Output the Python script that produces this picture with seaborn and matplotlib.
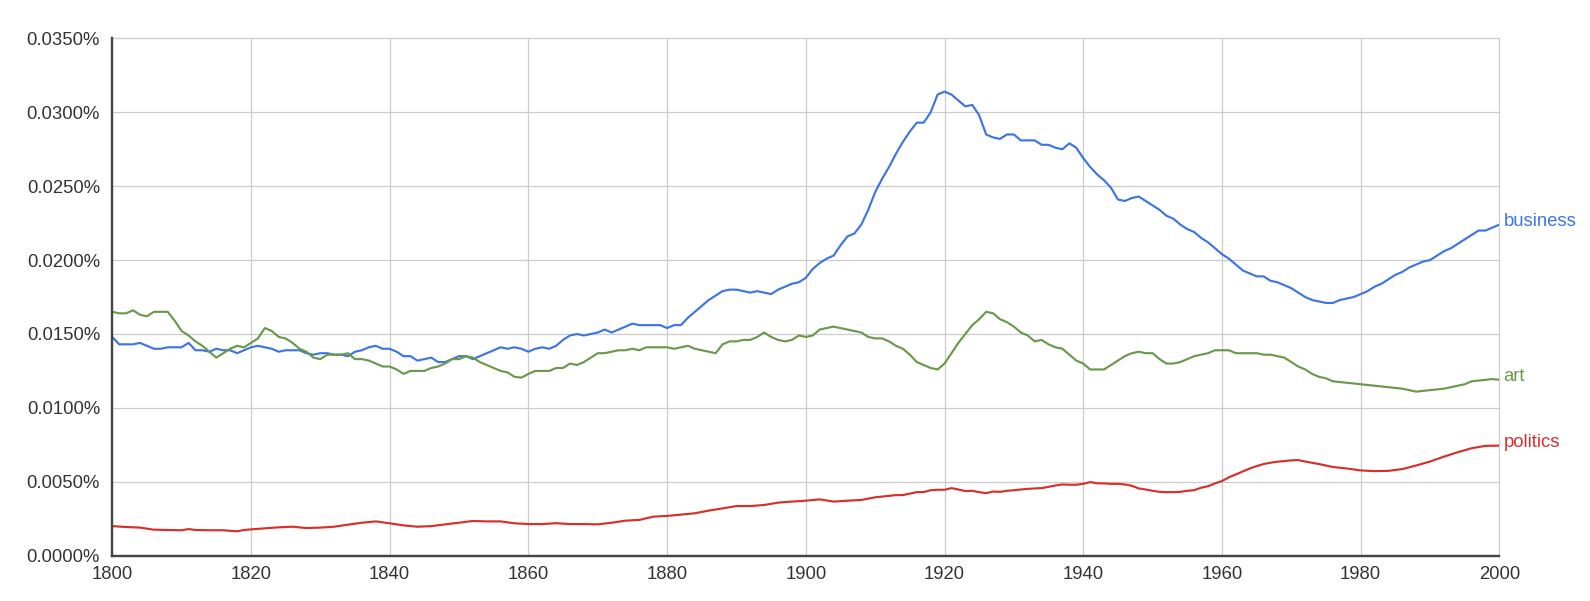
import matplotlib
matplotlib.use("Agg")
import matplotlib.pyplot as plt
import seaborn as sns
import pandas as pd
from matplotlib.ticker import FuncFormatter, MultipleLocator

# values, in percent
business_years = list(range(1800, 2001))
business = [
    0.0148, 0.0143, 0.0143, 0.0143, 0.0144, 0.0142, 0.0140, 0.0140, 0.0141, 0.0141,
    0.0141, 0.0144, 0.0139, 0.0139, 0.0138, 0.0140, 0.0139, 0.0139, 0.0137, 0.0139,
    0.0141, 0.0142, 0.0141, 0.0140, 0.0138, 0.0139, 0.0139, 0.0139, 0.0137, 0.0136,
    0.0137, 0.0137, 0.0136, 0.0136, 0.0135, 0.0138, 0.0139, 0.0141, 0.0142, 0.0140,
    0.0140, 0.0138, 0.0135, 0.0135, 0.0132, 0.0133, 0.0134, 0.0131, 0.0131, 0.0133,
    0.0135, 0.0135, 0.0133, 0.0135, 0.0137, 0.0139, 0.0141, 0.0140, 0.0141, 0.0140,
    0.0138, 0.0140, 0.0141, 0.0140, 0.0142, 0.0146, 0.0149, 0.0150, 0.0149, 0.0150,
    0.0151, 0.0153, 0.0151, 0.0153, 0.0155, 0.0157, 0.0156, 0.0156, 0.0156, 0.0156,
    0.0154, 0.0156, 0.0156, 0.0161, 0.0165, 0.0169, 0.0173, 0.0176, 0.0179, 0.0180,
    0.0180, 0.0179, 0.0178, 0.0179, 0.0178, 0.0177, 0.0180, 0.0182, 0.0184, 0.0185,
    0.0188, 0.0194, 0.0198, 0.0201, 0.0203, 0.0210, 0.0216, 0.0218, 0.0224, 0.0234,
    0.0246, 0.0255, 0.0263, 0.0272, 0.0280, 0.0287, 0.0293, 0.0293, 0.0300, 0.0312,
    0.0314, 0.0312, 0.0308, 0.0304, 0.0305, 0.0298, 0.0285, 0.0283, 0.0282, 0.0285,
    0.0285, 0.0281, 0.0281, 0.0281, 0.0278, 0.0278, 0.0276, 0.0275, 0.0279, 0.0276,
    0.0269, 0.0263, 0.0258, 0.0254, 0.0249, 0.0241, 0.0240, 0.0242, 0.0243, 0.0240,
    0.0237, 0.0234, 0.0230, 0.0228, 0.0224, 0.0221, 0.0219, 0.0215, 0.0212, 0.0208,
    0.0204, 0.0201, 0.0197, 0.0193, 0.0191, 0.0189, 0.0189, 0.0186, 0.0185, 0.0183,
    0.0181, 0.0178, 0.0175, 0.0173, 0.0172, 0.0171, 0.0171, 0.0173, 0.0174, 0.0175,
    0.0177, 0.0179, 0.0182, 0.0184, 0.0187, 0.0190, 0.0192, 0.0195, 0.0197, 0.0199,
    0.0200, 0.0203, 0.0206, 0.0208, 0.0211, 0.0214, 0.0217, 0.0220, 0.0220, 0.0222,
    0.0224,
]

art_years = list(range(1800, 2001))
art = [
    0.0165, 0.0164, 0.0164, 0.0166, 0.0163, 0.0162, 0.0165, 0.0165, 0.0165, 0.0159,
    0.0152, 0.0149, 0.0145, 0.0142, 0.0138, 0.0134, 0.0137, 0.0140, 0.0142, 0.0141,
    0.0144, 0.0147, 0.0154, 0.0152, 0.0148, 0.0147, 0.0144, 0.0140, 0.0138, 0.0134,
    0.0133, 0.0136, 0.0136, 0.0136, 0.0137, 0.0133, 0.0133, 0.0132, 0.0130, 0.0128,
    0.0128, 0.0126, 0.0123, 0.0125, 0.0125, 0.0125, 0.0127, 0.0128, 0.0130, 0.0133,
    0.0133, 0.0135, 0.0134, 0.0131, 0.0129, 0.0127, 0.0125, 0.0124, 0.0121, 0.01205,
    0.0123, 0.0125, 0.0125, 0.0125, 0.0127, 0.0127, 0.0130, 0.0129, 0.0131, 0.0134,
    0.0137, 0.0137, 0.0138, 0.0139, 0.0139, 0.0140, 0.0139, 0.0141, 0.0141, 0.0141,
    0.0141, 0.0140, 0.0141, 0.0142, 0.0140, 0.0139, 0.0138, 0.0137, 0.0143, 0.0145,
    0.0145, 0.0146, 0.0146, 0.0148, 0.0151, 0.0148, 0.0146, 0.0145, 0.0146, 0.0149,
    0.0148, 0.0149, 0.0153, 0.0154, 0.0155, 0.0154, 0.0153, 0.0152, 0.0151, 0.0148,
    0.0147, 0.0147, 0.0145, 0.0142, 0.0140, 0.0136, 0.0131, 0.0129, 0.0127, 0.0126,
    0.0130, 0.0137, 0.0144, 0.0150, 0.0156, 0.0160, 0.0165, 0.0164, 0.0160, 0.0158,
    0.0155, 0.0151, 0.0149, 0.0145, 0.0146, 0.0143, 0.0141, 0.0140, 0.0136, 0.0132,
    0.0130, 0.0126, 0.0126, 0.0126, 0.0129, 0.0132, 0.0135, 0.0137, 0.0138, 0.0137,
    0.0137, 0.0133, 0.0130, 0.0130, 0.0131, 0.0133, 0.0135, 0.0136, 0.0137, 0.0139,
    0.0139, 0.0139, 0.0137, 0.0137, 0.0137, 0.0137, 0.0136, 0.0136, 0.0135, 0.0134,
    0.0131, 0.0128, 0.0126, 0.0123, 0.0121, 0.0120, 0.0118, 0.01175, 0.0117, 0.01165,
    0.0116, 0.01155, 0.0115, 0.01145, 0.0114, 0.01135, 0.0113, 0.0112, 0.0111, 0.01115,
    0.0112, 0.01125, 0.0113, 0.0114, 0.0115, 0.0116, 0.0118, 0.01185, 0.0119, 0.01195,
    0.0119,
]

politics_years = [
    1800, 1802, 1804, 1806, 1808, 1810, 1811, 1812, 1814, 1816, 1818, 1819,
    1820, 1822, 1824, 1826, 1828, 1830, 1832, 1834, 1836, 1838, 1840, 1842,
    1844, 1846, 1848, 1850, 1852, 1854, 1856, 1858, 1860, 1862, 1864, 1866,
    1868, 1870, 1872, 1874, 1876, 1878, 1880, 1882, 1884, 1886, 1888, 1890,
    1892, 1894, 1896, 1898, 1900, 1902, 1904, 1906, 1908, 1910,
] + list(range(1911, 1972)) + [
    1972, 1974, 1976, 1978, 1980, 1982, 1984, 1986, 1988, 1990, 1992, 1994,
    1996, 1998, 2000,
]
politics = [
    0.00200, 0.00194, 0.00190, 0.00176, 0.00174, 0.00172, 0.00180, 0.00174,
    0.00172, 0.00172, 0.00165, 0.00174, 0.00178, 0.00185, 0.00192, 0.00196,
    0.00187, 0.00190, 0.00196, 0.00210, 0.00223, 0.00232, 0.00219, 0.00205,
    0.00196, 0.00200, 0.00212, 0.00223, 0.00235, 0.00232, 0.00232, 0.00219,
    0.00214, 0.00214, 0.00220, 0.00214, 0.00214, 0.00212, 0.00223, 0.00237,
    0.00242, 0.00264, 0.00269, 0.00278, 0.00287, 0.00305, 0.00320, 0.00336,
    0.00336, 0.00343, 0.00359, 0.00366, 0.00372, 0.00381, 0.00366, 0.00372,
    0.00377, 0.00395,
    # 1911-1971
    0.00400, 0.00405, 0.00410, 0.00410, 0.00420, 0.00430, 0.00430, 0.00443,
    0.00446, 0.00446, 0.00457, 0.00448, 0.00437, 0.00439, 0.00430, 0.00423,
    0.00434, 0.00432, 0.00439, 0.00443, 0.00448, 0.00452, 0.00455, 0.00457,
    0.00466, 0.00475, 0.00482, 0.00480, 0.00480, 0.00486, 0.00498, 0.00490,
    0.00489, 0.00486, 0.00486, 0.00482, 0.00473, 0.00455, 0.00448, 0.00439,
    0.00432, 0.00430, 0.00430, 0.00432, 0.00439, 0.00443, 0.00460, 0.00470,
    0.00489, 0.00505, 0.00530, 0.00550, 0.00570, 0.00590, 0.00606, 0.00620,
    0.00629, 0.00636, 0.00640, 0.00645, 0.00647,
    # 1972-2000
    0.00637, 0.00620, 0.00600, 0.00590, 0.00577, 0.00572, 0.00574, 0.00586,
    0.00610, 0.00637, 0.00670, 0.00700, 0.00727, 0.00743, 0.00745,
]

words = ["business", "art", "politics"]
colors = {"business": "#3d75e3", "art": "#6a994d", "politics": "#d7302a"}

df = pd.concat([
    pd.DataFrame({"year": business_years, "share": business, "word": "business"}),
    pd.DataFrame({"year": art_years, "share": art, "word": "art"}),
    pd.DataFrame({"year": politics_years, "share": politics, "word": "politics"}),
])

sns.set_style("white")
plt.rcParams["font.family"] = ["Liberation Sans", "DejaVu Sans"]

fig = plt.figure(figsize=(15.9, 6.01), dpi=100)
ax = fig.add_axes([0.0706, 0.0754, 0.8724, 0.8607])

sns.lineplot(data=df, x="year", y="share", hue="word", hue_order=words,
             palette=colors, linewidth=1.55, legend=False, ax=ax)

ax.set_xlim(1800, 2000)
ax.set_ylim(0, 0.035)
ax.xaxis.set_major_locator(MultipleLocator(20))
ax.yaxis.set_major_locator(MultipleLocator(0.005))
ax.yaxis.set_major_formatter(FuncFormatter(lambda v, _: f"{v:.4f}%"))
ax.set_xlabel("")
ax.set_ylabel("")

ax.grid(True, color="#cccccc", linewidth=0.9)
ax.set_axisbelow(True)
for gl in ax.get_xgridlines() + ax.get_ygridlines():
    gl.set_clip_on(False)
for side in ["top", "right"]:
    ax.spines[side].set_visible(False)
for side in ["left", "bottom"]:
    ax.spines[side].set_color("#444444")
    ax.spines[side].set_linewidth(1.7)
    ax.spines[side].set_zorder(5)

ax.tick_params(axis="both", direction="out", width=1.9,
               color="#444444", labelcolor="#333333", labelsize=13.3)
ax.tick_params(axis="y", length=3.8, pad=5)
ax.tick_params(axis="x", length=5, pad=2.5)

# series labels at the right end of each line
for w, ys in zip(words, [business, art, politics]):
    ax.text(2000.6, ys[-1] + 0.0002, w, color=colors[w], fontsize=13.3,
            va="center", ha="left", clip_on=False)

fig.savefig("out.png", dpi=100)
